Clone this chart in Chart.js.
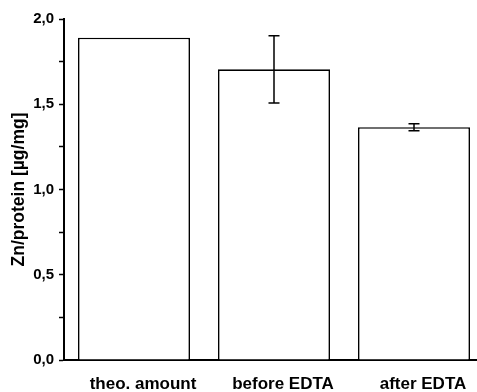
<!DOCTYPE html>
<html lang="en">
<head>
    <meta charset="UTF-8">
    <title>Zn/protein</title>
    <script src="https://cdn.jsdelivr.net/npm/chart.js"></script>
    <style>
        html, body { margin: 0; padding: 0; background: #fff; overflow: hidden; }
        #wrap { width: 477px; height: 392px; }
    </style>
</head>
<body>
    <div id="wrap"><canvas id="znChart"></canvas></div>

    <script>
        // data
        const categories = ['theo. amount', 'before EDTA', 'after EDTA'];
        const znValues = [1.89, 1.705, 1.365];
        const znErrors = [0, 0.197, 0.021];
        const yTicks = [0, 0.5, 1.0, 1.5, 2.0];

        const family = '"Liberation Sans", Arial, sans-serif';

        // draws the error bars using the chart's own scales
        const errorBars = {
            id: 'errorBars',
            afterDatasetsDraw(chart) {
                const ctx = chart.ctx;
                const xs = chart.scales.x, ys = chart.scales.y;
                ctx.save();
                ctx.strokeStyle = '#000';
                ctx.lineWidth = 1.5;
                znValues.forEach((v, i) => {
                    const e = znErrors[i];
                    if (!e) return;
                    const x = xs.getPixelForValue(i);
                    const top = ys.getPixelForValue(v + e);
                    const bot = ys.getPixelForValue(v - e);
                    ctx.beginPath();
                    ctx.moveTo(x, top); ctx.lineTo(x, bot);
                    ctx.moveTo(x - 5.5, top); ctx.lineTo(x + 5.5, top);
                    ctx.moveTo(x - 5.5, bot); ctx.lineTo(x + 5.5, bot);
                    ctx.stroke();
                });
                ctx.restore();
            }
        };

        const ctx = document.getElementById('znChart').getContext('2d');
        new Chart(ctx, {
            type: 'bar',
            data: {
                datasets: [{
                    data: znValues.map((v, i) => ({ x: i, y: v })),
                    backgroundColor: '#fff',
                    borderColor: '#000',
                    borderWidth: 1.6,
                    borderSkipped: 'bottom',
                    barPercentage: 0.8,
                    categoryPercentage: 1
                }]
            },
            options: {
                responsive: true,
                maintainAspectRatio: false,
                animation: false,
                layout: { padding: { top: 19, right: 0, left: 0, bottom: 0 } },
                plugins: { legend: { display: false }, tooltip: { enabled: false } },
                scales: {
                    x: {
                        type: 'linear',
                        offset: false,
                        min: -0.5,
                        max: 2.45,
                        afterBuildTicks: s => { s.ticks = categories.map((c, i) => ({ value: i })); },
                        afterFit: s => { s.height = 32; },
                        grid: { display: false },
                        border: { color: '#000', width: 2 },
                        ticks: {
                            color: '#000',
                            font: { family, size: 17, weight: 'bold' },
                            padding: 6,
                            labelOffset: 9,
                            maxRotation: 0,
                            autoSkip: false,
                            callback: v => categories[v]
                        }
                    },
                    y: {
                        min: 0,
                        max: 2.0,
                        afterBuildTicks: s => {
                            const t = [];
                            for (let k = 0; k <= 8; k++) t.push({ value: k * 0.25 });
                            s.ticks = t;
                        },
                        afterFit: s => { s.width = 64; },
                        grid: {
                            drawOnChartArea: false,
                            drawTicks: true,
                            tickLength: 5,
                            tickColor: '#000',
                            tickWidth: 1.5
                        },
                        border: { color: '#000', width: 2 },
                        ticks: {
                            color: '#000',
                            font: { family, size: 15, weight: 'bold' },
                            padding: 5,
                            autoSkip: false,
                            callback: v => yTicks.some(t => Math.abs(t - v) < 1e-9) ? v.toFixed(1).replace('.', ',') : ''
                        },
                        title: {
                            display: true,
                            text: 'Zn/protein [µg/mg]',
                            color: '#000',
                            font: { family, size: 17.5, weight: 'bold' },
                            padding: { top: 9, bottom: 0 }
                        }
                    }
                }
            },
            plugins: [errorBars]
        });
    </script>
</body>
</html>
